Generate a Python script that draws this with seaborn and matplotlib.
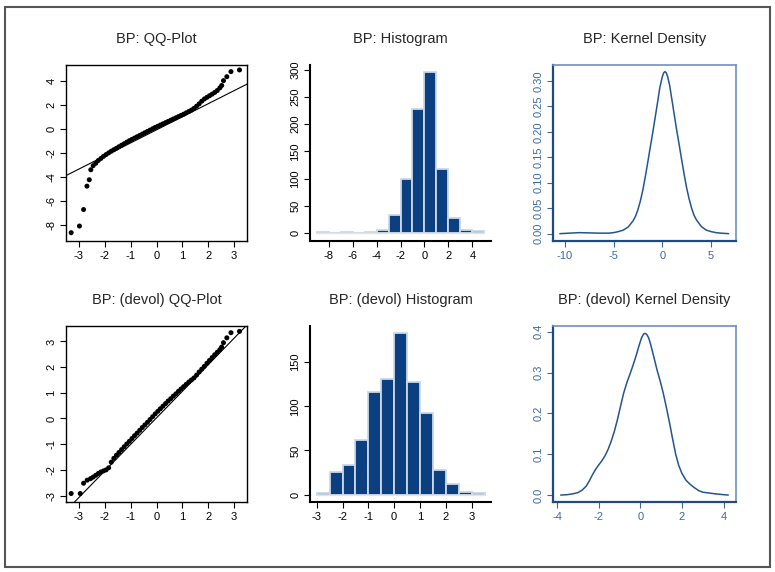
import numpy as np
import pandas as pd
import matplotlib.pyplot as plt
import seaborn as sns
from matplotlib.patches import Rectangle

sns.set_style('ticks')
plt.rcParams['font.family'] = ['Liberation Sans', 'DejaVu Sans']
plt.rcParams['axes.unicode_minus'] = False

# ---- QQ plot, raw series (theoretical quantile, sample value) ----
qq_x = [-3.30, -2.98, -2.82, -2.69, -2.60, -2.54,
        -2.45, -2.35, -2.25, -2.15, -2.05, -1.95, -1.85, -1.75, -1.65, -1.55,
        -1.45, -1.35, -1.25, -1.15, -1.05, -0.95, -0.85, -0.75, -0.65, -0.55,
        -0.45, -0.35, -0.25, -0.15, -0.05, 0.05, 0.15, 0.25, 0.35, 0.45,
        0.55, 0.65, 0.75, 0.85, 0.95, 1.05, 1.15, 1.25, 1.35, 1.45,
        1.55, 1.65, 1.75, 1.85, 1.95, 2.05, 2.15, 2.25, 2.35, 2.45,
        2.52, 2.59, 2.72, 2.88, 3.21]
qq_y = [-8.61, -8.06, -6.69, -4.75, -4.22, -3.39,
        -3.05, -2.85, -2.62, -2.45, -2.28, -2.13, -1.99, -1.85, -1.73, -1.61,
        -1.48, -1.35, -1.23, -1.10, -0.98, -0.87, -0.76, -0.65, -0.54, -0.43,
        -0.32, -0.21, -0.10, 0.01, 0.12, 0.22, 0.32, 0.42, 0.52, 0.62,
        0.72, 0.82, 0.92, 1.02, 1.12, 1.22, 1.33, 1.44, 1.56, 1.70,
        1.88, 2.08, 2.30, 2.48, 2.62, 2.75, 2.88, 3.02, 3.18, 3.40,
        3.60, 4.00, 4.33, 4.75, 4.89]
qq_line = (-0.08, 1.084)   # intercept, slope

# ---- QQ plot, devolatilized series ----
qqd_x = [-3.30, -2.95, -2.82, -2.68,
         -2.55, -2.45, -2.35, -2.25, -2.15, -2.05, -1.95, -1.85, -1.75, -1.65,
         -1.55, -1.45, -1.35, -1.25, -1.15, -1.05, -0.95, -0.85, -0.75, -0.65,
         -0.55, -0.45, -0.35, -0.25, -0.15, -0.05, 0.05, 0.15, 0.25, 0.35,
         0.45, 0.55, 0.65, 0.75, 0.85, 0.95, 1.05, 1.15, 1.25, 1.35,
         1.45, 1.55, 1.65, 1.75, 1.85, 1.95, 2.05, 2.15, 2.25, 2.35, 2.45,
         2.52, 2.59, 2.72, 2.88, 3.21]
qqd_y = [-2.92, -2.92, -2.52, -2.40,
         -2.34, -2.28, -2.21, -2.14, -2.08, -2.04, -2.00, -1.92, -1.70, -1.55,
         -1.43, -1.32, -1.21, -1.10, -0.99, -0.89, -0.78, -0.67, -0.57, -0.46,
         -0.35, -0.25, -0.15, -0.04, 0.07, 0.18, 0.28, 0.38, 0.48, 0.58,
         0.68, 0.77, 0.87, 0.96, 1.06, 1.15, 1.24, 1.33, 1.42, 1.50,
         1.58, 1.69, 1.81, 1.92, 2.03, 2.15, 2.26, 2.37, 2.48, 2.58, 2.68,
         2.78, 2.95, 3.14, 3.34, 3.39]
qqd_line = (0.025, 1.033)

# ---- histograms ----
hist_edges = [-9, -8, -7, -6, -5, -4, -3, -2, -1, 0, 1, 2, 3, 4, 5]
hist_counts = [2, 0, 1, 0, 2, 5, 32, 100, 228, 296, 118, 27, 6, 3]

histd_edges = [-3.0, -2.5, -2.0, -1.5, -1.0, -0.5, 0.0, 0.5, 1.0, 1.5, 2.0, 2.5, 3.0, 3.5]
histd_counts = [2, 26, 33, 62, 116, 131, 183, 128, 92, 28, 12, 3, 2]

# ---- kernel densities ----
kde_x = [-10.5, -9.5, -8.5, -7.5, -6.5, -5.5, -5.0, -4.5, -4.0, -3.5, -3.0,
         -2.75, -2.5, -2.25, -2.0, -1.75, -1.5, -1.25, -1.0, -0.75, -0.5, -0.25,
         0.0, 0.15, 0.27, 0.4, 0.55, 0.75, 1.0, 1.25, 1.5, 1.75, 2.0, 2.25,
         2.5, 2.75, 3.0, 3.25, 3.5, 4.0, 4.5, 5.0, 5.5, 6.0, 6.8]
kde_y = [0.000, 0.001, 0.002, 0.0015, 0.001, 0.001, 0.002, 0.004, 0.007, 0.013, 0.025,
         0.034, 0.047, 0.064, 0.085, 0.111, 0.139, 0.168, 0.196, 0.226, 0.256, 0.287,
         0.308, 0.316, 0.318, 0.316, 0.308, 0.291, 0.261, 0.230, 0.200, 0.172, 0.143, 0.115,
         0.089, 0.068, 0.050, 0.036, 0.027, 0.014, 0.007, 0.004, 0.002, 0.001, 0.000]

kded_x = [-3.83, -3.5, -3.25, -3.0, -2.8, -2.6, -2.45, -2.3, -2.15, -2.0, -1.85,
          -1.7, -1.55, -1.4, -1.25, -1.1, -0.95, -0.8, -0.65, -0.5, -0.35, -0.2,
          -0.05, 0.05, 0.15, 0.22, 0.3, 0.4, 0.5, 0.65, 0.8, 0.95, 1.1, 1.25,
          1.4, 1.55, 1.7, 1.85, 2.0, 2.2, 2.4, 2.6, 2.8, 3.0, 3.3, 3.6, 4.0, 4.23]
kded_y = [0.000, 0.001, 0.003, 0.006, 0.012, 0.022, 0.035, 0.050, 0.063, 0.074, 0.084,
          0.096, 0.112, 0.132, 0.156, 0.185, 0.218, 0.250, 0.275, 0.296, 0.318, 0.342,
          0.368, 0.384, 0.394, 0.396, 0.394, 0.385, 0.368, 0.338, 0.307, 0.280, 0.250, 0.215,
          0.178, 0.138, 0.100, 0.072, 0.053, 0.036, 0.026, 0.018, 0.011, 0.007, 0.005, 0.003,
          0.001, 0.000]

BAR = '#0b3f80'
BAR_EDGE = '#ccd8e8'
KBLUE = '#24558f'
KTICK = '#3a68a6'

fig = plt.figure(figsize=(7.75, 5.72), dpi=100)
fig.patches.append(Rectangle((5 / 775, 1 - 567 / 572), 765 / 775, 560 / 572,
                             transform=fig.transFigure, fill=False,
                             edgecolor='#555555', lw=1.5))

h = 176 / 572
rows = [1 - 241 / 572, 1 - 502 / 572]
cols = [(66 / 775, 181 / 775), (310 / 775, 181 / 775), (553 / 775, 183 / 775)]


def r_ticks(ax, color='black'):
    ax.tick_params(direction='out', length=4, width=0.8, labelsize=8,
                   colors=color, pad=3)
    ax.tick_params(axis='y', labelrotation=90)
    for lab in ax.get_yticklabels():
        lab.set_va('center')


def qq_panel(ax, x, y, line, title, yt, ylim):
    sns.scatterplot(x=x, y=y, ax=ax, color='black', s=13, edgecolor='none', zorder=3)
    ax.axline((0, line[0]), slope=line[1], color='black', lw=0.8, zorder=2)
    ax.set_xlim(-3.5, 3.5)
    ax.set_ylim(*ylim)
    ax.set_xticks(range(-3, 4))
    ax.set_yticks(yt)
    for s in ax.spines.values():
        s.set_visible(True)
        s.set_linewidth(1.0)
        s.set_color('black')
    ax.set(xlabel='', ylabel='')
    ax.set_title(title, fontsize=10.5, pad=16)
    r_ticks(ax)


def hist_panel(ax, edges, counts, title, xt, yt, xlim, ylim):
    df = pd.DataFrame({'left': edges[:-1], 'right': edges[1:], 'n': counts})
    df['mid'] = (df['left'] + df['right']) / 2
    sns.histplot(data=df, x='mid', weights='n', bins=list(edges), ax=ax,
                 color=BAR, alpha=1, edgecolor=BAR_EDGE, linewidth=1.3)
    ax.hlines(0, edges[0], edges[-1], color='#e4e4e4', lw=1.0, zorder=4)
    ax.set_xlim(*xlim)
    ax.set_ylim(*ylim)
    ax.set_xticks(xt)
    ax.set_yticks(yt)
    sns.despine(ax=ax)
    for s in ['left', 'bottom']:
        ax.spines[s].set_linewidth(1.5)
        ax.spines[s].set_color('black')
    ax.set(xlabel='', ylabel='')
    ax.set_title(title, fontsize=10.5, pad=16)
    r_ticks(ax)


def kde_panel(ax, x, y, title, xt, yt, xlim, ylim, fmt):
    sns.lineplot(x=x, y=y, ax=ax, color=KBLUE, lw=1.1, sort=False)
    ax.set_xlim(*xlim)
    ax.set_ylim(*ylim)
    ax.set_xticks(xt)
    ax.set_yticks(yt)
    ax.set_yticklabels([fmt.format(v) for v in yt])
    for s in ['left', 'bottom']:
        ax.spines[s].set_visible(True)
        ax.spines[s].set_linewidth(1.6)
        ax.spines[s].set_color('#1d4a85')
    for s in ['top', 'right']:
        ax.spines[s].set_visible(True)
        ax.spines[s].set_linewidth(1.2)
        ax.spines[s].set_color('#6f8fc0')
    ax.set(xlabel='', ylabel='')
    ax.set_title(title, fontsize=10.5, pad=16)
    r_ticks(ax, KTICK)


axes = [[fig.add_axes([c[0], r, c[1], h]) for c in cols] for r in rows]

qq_panel(axes[0][0], qq_x, qq_y, qq_line, 'BP: QQ-Plot',
         [-8, -6, -4, -2, 0, 2, 4], (-9.3, 5.3))
hist_panel(axes[0][1], hist_edges, hist_counts, 'BP: Histogram',
           [-8, -6, -4, -2, 0, 2, 4], [0, 50, 100, 150, 200, 250, 300],
           (-9.56, 5.56), (-15, 309))
kde_panel(axes[0][2], kde_x, kde_y, 'BP: Kernel Density',
          [-10, -5, 0, 5], [0, 0.05, 0.10, 0.15, 0.20, 0.25, 0.30],
          (-11.2, 7.55), (-0.0144, 0.331), '{:.2f}')

qq_panel(axes[1][0], qqd_x, qqd_y, qqd_line, 'BP: (devol) QQ-Plot',
         [-3, -2, -1, 0, 1, 2, 3], (-3.25, 3.6))
hist_panel(axes[1][1], histd_edges, histd_counts, 'BP: (devol) Histogram',
           [-3, -2, -1, 0, 1, 2, 3], [0, 50, 100, 150],
           (-3.26, 3.75), (-8.5, 191))
kde_panel(axes[1][2], kded_x, kded_y, 'BP: (devol) Kernel Density',
          [-4, -2, 0, 2, 4], [0.0, 0.1, 0.2, 0.3, 0.4],
          (-4.2, 4.6), (-0.017, 0.414), '{:.1f}')

fig.savefig('out.png', dpi=100, facecolor='white')
